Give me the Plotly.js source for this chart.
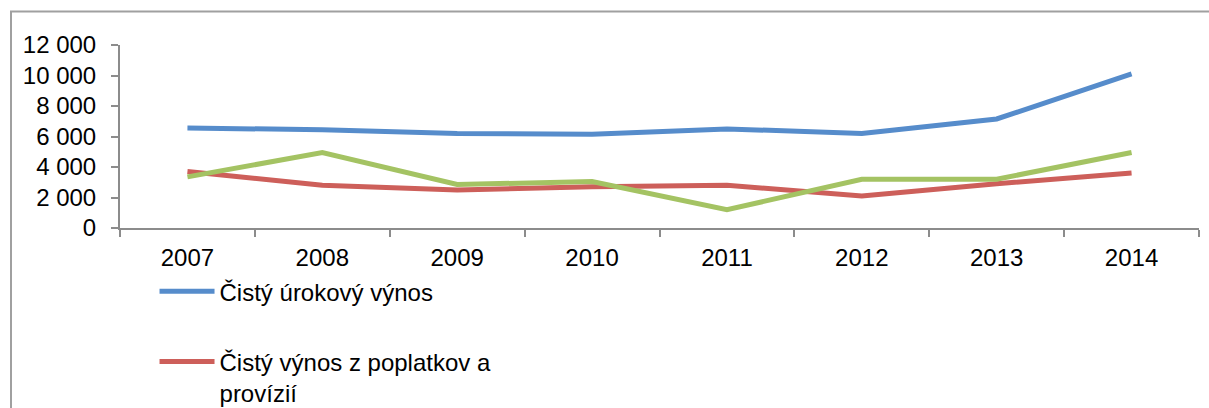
<!DOCTYPE html>
<html>
<head>
<meta charset="utf-8">
<script src="https://cdn.plot.ly/plotly-3.0.1.min.js"></script>
<style>
  html, body { margin: 0; padding: 0; background: #fff; }
  #chart { width: 1209px; height: 408px; }
</style>
</head>
<body>
<div id="chart"></div>
<script>
const years = ["2007", "2008", "2009", "2010", "2011", "2012", "2013", "2014"];
const interestIncome = [6550, 6450, 6200, 6150, 6500, 6200, 7150, 10100];
const feeIncome = [3700, 2800, 2500, 2700, 2800, 2100, 2900, 3600];
const thirdSeries = [3350, 4950, 2850, 3050, 1200, 3200, 3200, 4950];

const seriesNames = [
  "Čistý úrokový výnos",
  "Čistý výnos z poplatkov a<br>provízií",
  "Čistý zisk"
];
const seriesColors = ["#568ccb", "#cd5f5a", "#a4c363"];

const font = "Liberation Sans, Arial, sans-serif";

const traces = [interestIncome, feeIncome, thirdSeries].map((vals, i) => ({
  type: "scatter",
  mode: "lines",
  x: years,
  y: vals,
  name: seriesNames[i],
  legendgroup: "g" + i,
  showlegend: i < 2,
  line: { color: seriesColors[i], width: 5 }
}));

const layout = {
  width: 1209,
  height: 408,
  margin: { l: 120, r: 10.3, t: 45.3, b: 179.7, autoexpand: false },
  paper_bgcolor: "#ffffff",
  plot_bgcolor: "#ffffff",
  separators: ", ",
  font: { family: font, size: 24, color: "#000000" },
  showlegend: true,
  legend: {
    x: 0.032,
    xanchor: "left",
    y: -0.225,
    yanchor: "top",
    traceorder: "grouped",
    tracegroupgap: 36,
    itemwidth: 55,
    valign: "top",
    font: { family: font, size: 24, color: "#000000" },
    bgcolor: "rgba(0,0,0,0)"
  },
  xaxis: {
    type: "category",
    range: [-0.5, 7.5],
    tickson: "boundaries",
    ticks: "outside",
    ticklen: 7,
    tickwidth: 2,
    tickcolor: "#8c8c8c",
    showline: true,
    linecolor: "#8c8c8c",
    linewidth: 2,
    showgrid: false,
    zeroline: false,
    ticklabelstandoff: 7,
    tickfont: { family: font, size: 24, color: "#000000" },
    fixedrange: true
  },
  yaxis: {
    range: [0, 12000],
    tick0: 0,
    dtick: 2000,
    tickformat: ",d",
    ticks: "outside",
    ticklen: 7,
    tickwidth: 2,
    tickcolor: "#8c8c8c",
    showline: true,
    linecolor: "#8c8c8c",
    linewidth: 2,
    showgrid: false,
    zeroline: false,
    ticklabelstandoff: 10,
    tickfont: { family: font, size: 24, color: "#000000" },
    fixedrange: true
  },
  shapes: [{
    type: "rect",
    xref: "paper",
    yref: "paper",
    xsizemode: "pixel",
    ysizemode: "pixel",
    xanchor: 0,
    yanchor: 1,
    x0: -109,
    x1: 1200,
    y0: 33.5,
    y1: -500,
    line: { color: "#a0a0a0", width: 2 },
    fillcolor: "rgba(0,0,0,0)",
    layer: "below"
  }]
};

Plotly.newPlot("chart", traces, layout, { staticPlot: true, displayModeBar: false });
</script>
</body>
</html>
